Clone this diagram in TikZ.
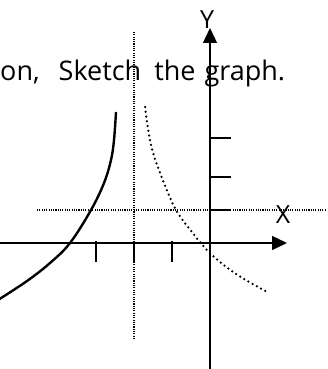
\documentclass[tikz,border=0pt]{standalone}
\usepackage{fontspec}
\newfontfamily\sketchfont{Open Sans}
\usepackage{tikz}
\usetikzlibrary{arrows.meta}

\begin{document}
\begin{tikzpicture}[x=1pt, y=-1pt,
      axis/.style={line width=1.4pt, -{Triangle[length=15pt, width=14pt]}},
      tick/.style={line width=1.2pt},
      guide/.style={line width=1.2pt, dash pattern=on 1.1pt off 1.2pt},
      curve/.style={line width=2.4pt},
      dotcurve/.style={line width=2.5pt, line cap=round, dash pattern=on 0pt off 4.8pt},
      lab/.style={font=\sketchfont\fontsize{25}{27}\selectfont, inner sep=0pt}
  ]
    \useasboundingbox (0,0) rectangle (327,369);

    % axes
    \coordinate (xstart) at (0,243);
    \coordinate (xend) at (287,243);
    \coordinate (ystart) at (210,369);
    \coordinate (yend) at (210,28);
    \draw[axis] (xstart) -- (xend);
    \draw[axis] (ystart) -- (yend);

    \node[lab] (ylab) at (207,20) {Y};
    \node[lab] (xlab) at (283,215) {X};

    % asymptote and shifted axis
    \coordinate (vtop) at (134,32);
    \coordinate (vbot) at (134,338);
    \coordinate (hleft) at (37,210);
    \coordinate (hright) at (326,210);
    \draw[guide] (vtop) -- (vbot);
    \draw[guide] (hleft) -- (hright);

    % ticks
    \foreach \tx in {96,134,172}
      \draw[tick] (\tx,241) -- (\tx,262);
    \foreach \ty in {138,177,210}
      \draw[tick] (210,\ty) -- (231,\ty);

    % graphs
    \draw[curve] plot[smooth, tension=0.6] coordinates
      {(-2,300) (27,281) (50,263) (70,243) (91,210) (104,183) (111,160) (114,140) (116,112)};
    \draw[dotcurve] plot[smooth, tension=0.6] coordinates
      {(145,107) (151,145) (162,178) (176,210) (192,232) (200,242) (212,255) (236,274) (269,293)};

    \node[lab, font=\sketchfont\fontsize{27}{29}\selectfont, anchor=base west] (task) at (0,80)
      {on,\hspace{19pt}Sketch\hspace{13pt}the\hspace{9pt}graph.};
  \end{tikzpicture}
\end{document}
